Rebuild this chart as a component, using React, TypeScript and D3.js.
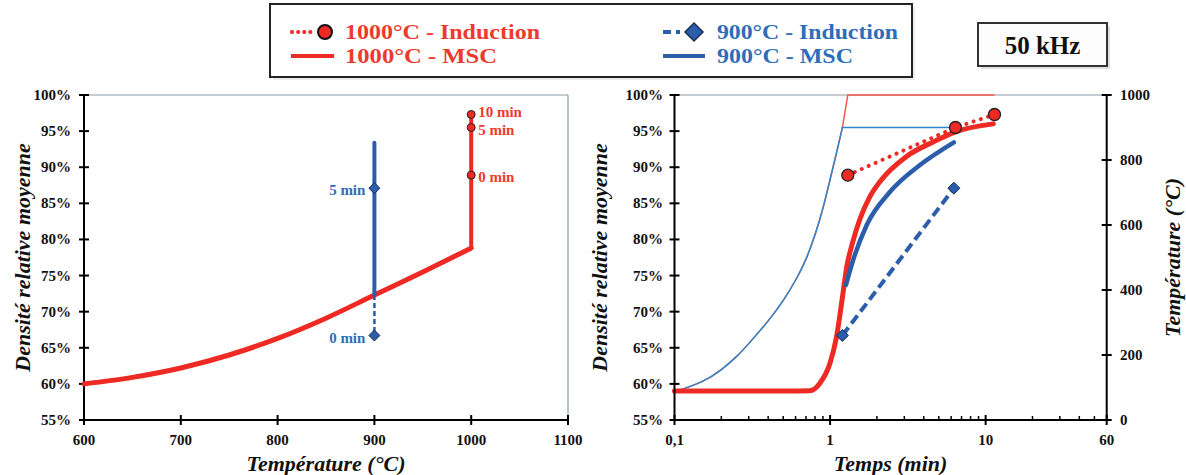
import React from "react";
import * as d3 from "d3";

// ---------- DATA ----------
// Left chart: density vs temperature (MSC 1000°C)
const leftTemps = [600, 650, 700, 750, 800, 850, 900, 950, 1000, 1000];
const leftMSC1000 = [60.0, 60.9, 62.2, 64.0, 66.3, 69.1, 72.3, 75.5, 78.8, 97.3];
// Left chart: MSC 900°C vertical segment
const msc900Temp = 900;
const msc900Range = [72.3, 93.4];
// Induction points
const ind1000Labels = ["0 min", "5 min", "10 min"];
const ind1000Times = [1.3, 6.4, 11.4];
const ind1000Density = [88.9, 95.5, 97.3];
const ind900Labels = ["0 min", "5 min"];
const ind900Times = [1.2, 6.25];
const ind900Density = [66.7, 87.1];

// Right chart: MSC density vs time
const msc1000Times = [0.1, 0.5, 0.74, 0.86, 1.0, 1.1, 1.19, 1.28, 1.41, 1.56, 1.8, 2.09, 3.1, 4.6, 6.4, 11.2];
const msc1000Density = [59.0, 59.0, 59.05, 60.1, 62.9, 66.5, 71.4, 76.2, 79.9, 82.9, 85.9, 88.0, 91.5, 93.5, 94.9, 96.0];
const msc900Times = [1.265, 1.377, 1.72, 2.43, 3.78, 6.25];
const msc900Density = [73.7, 76.5, 82.0, 86.6, 90.3, 93.45];

// Right chart: temperature profiles (secondary axis)
const rampTimes = [0.1, 0.15, 0.2, 0.25, 0.3, 0.4, 0.5, 0.6, 0.7, 0.8, 0.9, 1.0, 1.1, 1.2];
const rampTemps = [86, 118, 155, 195, 235, 305, 368, 430, 495, 570, 652, 740, 822, 900];
const temp1000Tail = [[1.3, 1000], [11.4, 1000]];
const temp900Tail = [[6.2, 900]];

// Ticks
const leftXTicks = [600, 700, 800, 900, 1000, 1100];
const densityTicks = [55, 60, 65, 70, 75, 80, 85, 90, 95, 100];
const timeTicks = [0.1, 1, 10, 60];
const timeTickLabels = ["0,1", "1", "10", "60"];
const timeMinorTicks = [0.2, 0.3, 0.4, 0.5, 0.6, 0.7, 0.8, 0.9, 2, 3, 4, 5, 6, 7, 8, 9, 20, 30, 40, 50];
const tempTicks = [0, 200, 400, 600, 800, 1000];

// Legend
const legendLabels = ["1000°C - Induction", "1000°C - MSC", "900°C - Induction", "900°C - MSC"];

// ---------- STYLE ----------
const RED = "#EE2A24";
const RED_TXT = "#EE3A2E";
const BLUE = "#2B5DAB";
const BLUE_THIN = "#2E86CC";
const BLUE_TXT = "#2E6DB8";
const FONT = "'Liberation Serif', 'Times New Roman', serif";

export default function App() {
  const yTop = 95, yBot = 420;
  const xL = d3.scaleLinear().domain([600, 1100]).range([84, 568]);
  const yD = d3.scaleLinear().domain([55, 100]).range([yBot, yTop]);
  const xR = d3.scaleLog().domain([0.1, 60]).range([674.5, 1106.7]);
  const yT = d3.scaleLinear().domain([0, 1000]).range([yBot, yTop]);

  const lineXY = d3.line<[number, number]>().x(d => d[0]).y(d => d[1]);
  const smooth = d3.line<[number, number]>().x(d => d[0]).y(d => d[1]).curve(d3.curveMonotoneX);
  const natural = d3.line<[number, number]>().x(d => d[0]).y(d => d[1]).curve(d3.curveNatural);

  const leftRedPts: [number, number][] = leftTemps.map((t, i) => [xL(t), yD(leftMSC1000[i])]);
  const leftRedCurve = smooth(leftRedPts.slice(0, 9)) || "";
  const leftRedVert = lineXY([leftRedPts[8], leftRedPts[9]]) || "";

  const ramp: [number, number][] = rampTimes.map((t, i) => [xR(t), yT(rampTemps[i])]);
  const rampPath = natural(ramp) || "";
  const tail = (pts: number[][]) =>
    (lineXY([ramp[ramp.length - 1], ...pts.map(d => [xR(d[0]), yT(d[1])] as [number, number])]) || "").replace(/^M/, "L");
  const red1000Temp = rampPath + tail(temp1000Tail);
  const blue900Temp = rampPath + tail(temp900Tail);

  const msc1000Path = smooth(msc1000Times.map((t, i) => [xR(t), yD(msc1000Density[i])] as [number, number])) || "";
  const msc900Path = smooth(msc900Times.map((t, i) => [xR(t), yD(msc900Density[i])] as [number, number])) || "";
  const ind1000Path = lineXY(ind1000Times.map((t, i) => [xR(t), yD(ind1000Density[i])] as [number, number])) || "";
  const ind900Path = lineXY(ind900Times.map((t, i) => [xR(t), yD(ind900Density[i])] as [number, number])) || "";

  const diamond = (cx: number, cy: number, r: number) =>
    `M${cx},${cy - r}L${cx + r},${cy}L${cx},${cy + r}L${cx - r},${cy}Z`;

  const tickLbl = { fontFamily: FONT, fontWeight: 700, fontSize: 15, fill: "#111" } as const;
  const title = { fontFamily: FONT, fontWeight: 700, fontStyle: "italic", fontSize: 22, fill: "#111" } as const;
  const legTxt = { fontFamily: FONT, fontWeight: 700, fontSize: 21 } as const;
  const legWidths = [195, 152, 181, 136];

  return (
    <svg width={1186} height={475} style={{ position: "absolute", left: 0, top: 0, background: "#fff" }}>
      {/* ---------- Legend ---------- */}
      <rect x={273} y={7} width={642} height={73} fill="#ddd" opacity={0.6} />
      <rect x={270} y={4} width={642} height={73} fill="#fff" stroke="#222" strokeWidth={2} />
      <line x1={292} x2={312} y1={32} y2={32} stroke={RED} strokeWidth={4} strokeDasharray="0.1 6" strokeLinecap="round" />
      <circle cx={325} cy={32} r={7} fill={RED} stroke="#111" strokeWidth={2} />
      <text x={345} y={32} dominantBaseline="central" style={legTxt} fill={RED_TXT} textLength={legWidths[0]} lengthAdjust="spacingAndGlyphs">{legendLabels[0]}</text>
      <line x1={291} x2={334} y1={56} y2={56} stroke={RED} strokeWidth={4} />
      <text x={345} y={56} dominantBaseline="central" style={legTxt} fill={RED_TXT} textLength={legWidths[1]} lengthAdjust="spacingAndGlyphs">{legendLabels[1]}</text>
      <line x1={663} x2={680} y1={32} y2={32} stroke={BLUE} strokeWidth={4} strokeDasharray="8 5" />
      <path d={diamond(694, 32, 9)} fill={BLUE} stroke="#1a2f5a" strokeWidth={1.5} />
      <text x={717} y={32} dominantBaseline="central" style={legTxt} fill={BLUE_TXT} textLength={legWidths[2]} lengthAdjust="spacingAndGlyphs">{legendLabels[2]}</text>
      <line x1={663} x2={705} y1={56} y2={56} stroke={BLUE} strokeWidth={4} />
      <text x={717} y={56} dominantBaseline="central" style={legTxt} fill={BLUE_TXT} textLength={legWidths[3]} lengthAdjust="spacingAndGlyphs">{legendLabels[3]}</text>

      {/* 50 kHz box */}
      <rect x={981} y={26} width={129} height={43} fill="#ccc" opacity={0.6} />
      <rect x={978} y={23} width={129} height={43} fill="#fdfdfd" stroke="#333" strokeWidth={2} />
      <text x={1042.5} y={45} textAnchor="middle" dominantBaseline="central" fontFamily={FONT} fontWeight={700} fontSize={25} fill="#111">50 kHz</text>

      {/* ---------- Left chart ---------- */}
      <line x1={xL(600)} x2={xL(1100)} y1={yTop} y2={yTop} stroke="#8b9aa8" strokeWidth={1.2} />
      <line x1={xL(1100)} x2={xL(1100)} y1={yTop} y2={yBot} stroke="#8b9aa8" strokeWidth={1.2} />
      <line x1={xL(600)} x2={xL(600)} y1={yTop} y2={yBot} stroke="#000" strokeWidth={2} />
      <line x1={xL(600)} x2={xL(1100)} y1={yBot} y2={yBot} stroke="#000" strokeWidth={2} />
      {densityTicks.map(v => (
        <g key={"ly" + v}>
          <line x1={xL(600) - 5} x2={xL(600) + 5} y1={yD(v)} y2={yD(v)} stroke="#000" strokeWidth={2} />
          <text x={71} y={yD(v)} textAnchor="end" dominantBaseline="central" style={tickLbl}>{v}%</text>
        </g>
      ))}
      {leftXTicks.map(v => (
        <g key={"lx" + v}>
          <line x1={xL(v)} x2={xL(v)} y1={yBot - 5} y2={yBot + 5} stroke="#000" strokeWidth={2} />
          <text x={xL(v)} y={440} textAnchor="middle" dominantBaseline="central" style={tickLbl}>{v}</text>
        </g>
      ))}
      <text x={326} y={463} textAnchor="middle" dominantBaseline="central" style={title}>Température (°C)</text>
      <text transform={`translate(22,${(yTop + yBot) / 2}) rotate(-90)`} textAnchor="middle" dominantBaseline="central" style={title}>Densité relative moyenne</text>

      <path d={leftRedCurve} fill="none" stroke={RED} strokeWidth={5} strokeLinecap="round" />
      <path d={leftRedVert} fill="none" stroke={RED} strokeWidth={4} />
      <line x1={xL(msc900Temp)} x2={xL(msc900Temp)} y1={yD(msc900Range[0])} y2={yD(msc900Range[1])} stroke={BLUE} strokeWidth={4} strokeLinecap="round" />
      <line x1={xL(msc900Temp)} x2={xL(msc900Temp)} y1={yD(msc900Range[0])} y2={yD(ind900Density[0])} stroke={BLUE} strokeWidth={2.5} strokeDasharray="5 3" />
      {ind1000Density.map((v, i) => (
        <g key={"lc" + i}>
          <circle cx={xL(1000)} cy={yD(v)} r={4} fill={RED} stroke="#222" strokeWidth={1} />
          <text x={xL(1000) + 7} y={yD(v) + (i === 2 ? -3 : 2)} dominantBaseline="central" fontFamily={FONT} fontWeight={700} fontSize={15} fill={RED_TXT}>{ind1000Labels[i]}</text>
        </g>
      ))}
      {ind900Density.map((v, i) => (
        <g key={"ld" + i}>
          <path d={diamond(xL(900), yD(v), 5.5)} fill={BLUE} stroke="#1a2f5a" strokeWidth={1} />
          <text x={xL(900) - 9} y={yD(v) + 2} textAnchor="end" dominantBaseline="central" fontFamily={FONT} fontWeight={700} fontSize={15} fill={BLUE_TXT}>{ind900Labels[i]}</text>
        </g>
      ))}

      {/* ---------- Right chart ---------- */}
      <line x1={xR(0.1)} x2={xR(60)} y1={yTop} y2={yTop} stroke="#8b9aa8" strokeWidth={1.2} />
      <path d={red1000Temp} fill="none" stroke="#F0584C" strokeWidth={1.5} />
      <path d={blue900Temp} fill="none" stroke={BLUE_THIN} strokeWidth={1.5} />
      <path d={msc1000Path} fill="none" stroke={RED} strokeWidth={5} strokeLinecap="round" />
      <path d={msc900Path} fill="none" stroke={BLUE} strokeWidth={4.5} strokeLinecap="round" />
      <path d={ind900Path} fill="none" stroke={BLUE} strokeWidth={4} strokeDasharray="10 5" />
      <path d={ind1000Path} fill="none" stroke={RED} strokeWidth={4} strokeDasharray="0.1 7.5" strokeLinecap="round" />
      {ind900Times.map((t, i) => (
        <path key={"rd" + i} d={diamond(xR(t), yD(ind900Density[i]), 6)} fill={BLUE} stroke="#1a2f5a" strokeWidth={1} />
      ))}
      {ind1000Times.map((t, i) => (
        <circle key={"rc" + i} cx={xR(t)} cy={yD(ind1000Density[i])} r={6} fill={RED} stroke="#222" strokeWidth={1.3} />
      ))}

      <line x1={xR(0.1)} x2={xR(0.1)} y1={yTop} y2={yBot} stroke="#000" strokeWidth={2} />
      <line x1={xR(0.1)} x2={xR(60)} y1={yBot} y2={yBot} stroke="#000" strokeWidth={2} />
      <line x1={xR(60)} x2={xR(60)} y1={yTop} y2={yBot} stroke="#000" strokeWidth={2} />
      {densityTicks.map(v => (
        <g key={"ry" + v}>
          <line x1={xR(0.1) - 5} x2={xR(0.1) + 5} y1={yD(v)} y2={yD(v)} stroke="#000" strokeWidth={2} />
          <text x={663} y={yD(v)} textAnchor="end" dominantBaseline="central" style={tickLbl}>{v}%</text>
        </g>
      ))}
      {tempTicks.map(v => (
        <g key={"rt" + v}>
          <line x1={xR(60) - 5} x2={xR(60) + 5} y1={yT(v)} y2={yT(v)} stroke="#000" strokeWidth={2} />
          <text x={1120} y={yT(v)} dominantBaseline="central" style={tickLbl}>{v}</text>
        </g>
      ))}
      {timeTicks.map((v, i) => (
        <g key={"rx" + v}>
          <line x1={xR(v)} x2={xR(v)} y1={yBot - 5} y2={yBot + 5} stroke="#000" strokeWidth={2} />
          <text x={xR(v)} y={440} textAnchor="middle" dominantBaseline="central" style={tickLbl}>{timeTickLabels[i]}</text>
        </g>
      ))}
      {timeMinorTicks.map(v => (
        <line key={"rm" + v} x1={xR(v)} x2={xR(v)} y1={yBot - 4} y2={yBot} stroke="#000" strokeWidth={1.5} />
      ))}
      <text x={(xR(0.1) + xR(60)) / 2} y={463} textAnchor="middle" dominantBaseline="central" style={title}>Temps (min)</text>
      <text transform={`translate(599,${(yTop + yBot) / 2}) rotate(-90)`} textAnchor="middle" dominantBaseline="central" style={title}>Densité relative moyenne</text>
      <text transform={`translate(1172,${(yTop + yBot) / 2}) rotate(-90)`} textAnchor="middle" dominantBaseline="central" style={title}>Température (°C)</text>
    </svg>
  );
}
